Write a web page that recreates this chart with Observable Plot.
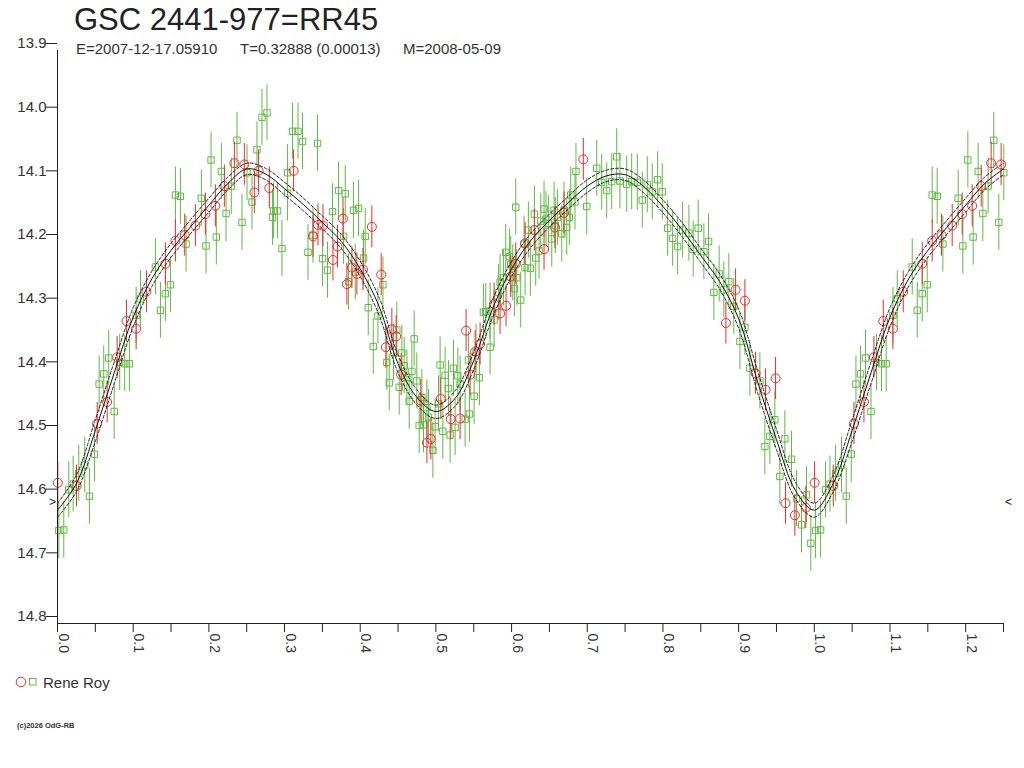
<!DOCTYPE html>
<html>
<head>
<meta charset="utf-8">
<script src="https://cdn.jsdelivr.net/npm/d3@7"></script>
<script src="https://cdn.jsdelivr.net/npm/@observablehq/plot@0.6"></script>
<style>
  html, body { margin: 0; padding: 0; background: #fff; overflow: hidden; }
  #wrap { position: relative; width: 1024px; height: 768px; font-family: "Liberation Sans", Arial, sans-serif; }
  #chart { position: absolute; left: 0; top: 0; }
  .abs { position: absolute; white-space: pre; line-height: 1; }
</style>
</head>
<body>
<div id="wrap">
  <div id="chart"></div>
  <div class="abs" style="left:74px; top:4px; font-size:31px; color:#222;">GSC 2441-977=RR45</div>
  <div class="abs" style="left:76px; top:41px; font-size:15px; color:#333;">E=2007-12-17.05910</div>
  <div class="abs" style="left:240px; top:41px; font-size:15px; color:#333;">T=0.32888 (0.00013)</div>
  <div class="abs" style="left:403px; top:41px; font-size:15px; color:#333;">M=2008-05-09</div>
  <svg class="abs" style="left:14px; top:675px;" width="26" height="14">
    <circle cx="7" cy="7" r="4.8" fill="none" stroke="#ee2b2b" stroke-width="1"/>
    <rect x="15.5" y="3.5" width="6.5" height="6.5" fill="none" stroke="#62b846" stroke-width="1"/>
  </svg>
  <div class="abs" style="left:43px; top:675px; font-size:15px; color:#333;">Rene Roy</div>
  <div class="abs" style="left:17px; top:722px; font-size:7.5px; font-weight:bold; color:#333;">(c)2026 OdG-RB</div>
</div>
<script>
// ---- data (phase, magnitude) ----
const greenPhase = [0.0017,0.0083,0.0149,0.0207,0.0281,0.0360,0.0422,0.0488,0.0550,0.0611,0.0677,0.0749,0.0822,0.0888,0.0950,0.1039,0.1096,0.1294,0.1360,0.1426,0.1492,0.1558,0.1624,0.1699,0.1901,0.1963,0.2029,0.2099,0.2165,0.2227,0.2297,0.2372,0.2438,
0.2504,0.2570,0.2636,0.2702,0.2768,0.2842,0.2855,0.2908,0.2966,0.3040,0.3040,0.3106,0.3178,0.3238,0.3310,0.3376,0.3436,0.3502,0.3568,0.3634,0.3714,0.3780,0.3802,0.3846,0.3912,0.3934,0.3978,0.4044,0.4066,0.4106,0.4172,0.4234,0.4300,0.4352,0.4383,0.4440,0.4484,0.4515,0.4550,0.4581,0.4617,0.4647,0.4683,0.4713,0.4748,0.4779,0.4815,0.4881,0.4902,
0.4836,0.4960,0.4990,0.5034,0.5056,0.5092,0.5122,0.5166,0.5188,0.5232,0.5254,0.5290,0.5320,0.5386,0.5430,0.5443,0.5505,0.5531,0.5575,0.5628,0.5659,0.5716,0.5716,0.5769,0.5826,0.5848,0.5892,0.5923,0.5971,0.5989,0.6016,0.6037,0.6055,0.6069,0.6121,0.6165,0.6178,0.6222,0.6248,0.6301,0.6319,0.6363,0.6386,0.6429,0.6455,0.6486,0.6531,0.6561,0.6578,0.6605,0.6663,0.6693,0.6729,0.6763,0.6782,0.6838,0.6851,0.6993,0.7125,0.7191,0.7257,0.7323,0.7389,0.7432,
0.7521,0.7587,0.7661,0.7727,0.7793,0.7859,0.7930,0.7991,0.8062,0.8128,0.8194,0.8260,0.8343,0.8400,0.8466,0.8541,0.8603,0.8673,0.8743,0.8805,0.8871,0.8937,0.9017,0.9083,0.9149,0.9281,0.9347,0.9413,0.9479,0.9545,0.9611,0.9699,0.9765,0.9831,0.9897,0.9954];
const greenMag = [14.654,14.653,14.590,14.581,14.564,14.551,14.600,14.534,14.424,14.408,14.383,14.467,14.390,14.392,14.392,14.316,14.290,14.240,14.308,14.282,14.268,14.127,14.129,14.204,14.132,14.207,14.072,14.193,14.090,14.156,14.113,14.041,14.170,
14.092,14.138,14.056,14.005,13.998,14.162,14.152,14.152,14.211,14.092,14.124,14.027,14.027,14.043,14.217,14.190,14.046,14.227,14.245,14.153,14.120,14.192,14.125,14.263,14.151,14.248,14.148,14.226,14.192,14.304,14.365,14.317,14.268,14.390,14.422,14.374,14.339,14.429,14.375,14.395,14.414,14.451,14.404,14.353,14.419,14.489,14.445,14.461,14.476,
14.488,14.528,14.491,14.455,14.394,14.498,14.410,14.431,14.504,14.399,14.492,14.411,14.424,14.479,14.386,14.471,14.443,14.374,14.414,14.311,14.310,14.309,14.366,14.323,14.280,14.264,14.257,14.217,14.224,14.236,14.249,14.274,14.146,14.257,14.292,14.204,14.241,14.182,14.242,14.157,14.226,14.215,14.168,14.149,14.165,14.172,14.196,14.151,14.175,14.162,14.188,14.151,14.178,14.162,14.127,14.138,14.090,14.145,14.085,14.107,14.120,14.106,14.067,14.105,
14.110,14.106,14.107,14.135,14.111,14.122,14.103,14.122,14.179,14.195,14.208,14.182,14.187,14.212,14.179,14.216,14.200,14.280,14.251,14.276,14.263,14.302,14.357,14.335,14.399,14.419,14.522,14.506,14.480,14.569,14.510,14.542,14.604,14.645,14.598,14.674];
const greenErr = 0.044;

const redPhase = [0.0004,0.0251,0.0524,0.0656,0.0788,0.0911,0.1039,0.1175,0.1426,0.1558,0.1681,0.1822,0.1954,0.2086,0.2205,0.2337,0.2469,0.2601,0.2657,0.2799,0.3120,0.3376,0.3442,0.3508,0.3640,0.3700,0.3772,0.3824,0.3890,0.3956,0.4036,0.4154,0.4277,0.4339,0.4418,0.4475,0.4541,0.4801,0.4881,0.4933,0.5065,0.5197,0.5320,0.5399,0.5452,0.5518,0.5584,0.5769,0.5848,0.5927,0.5989,0.6055,0.6178,0.6301,0.6429,0.6574,0.6693,0.6948,0.8832,0.8960,0.9083,0.9224,0.9356,0.9488,0.9620,0.9743,0.9888];
const redMag = [14.579,14.584,14.486,14.452,14.382,14.325,14.337,14.279,14.235,14.199,14.190,14.175,14.157,14.144,14.113,14.077,14.079,14.123,14.089,14.116,14.089,14.192,14.174,14.175,14.229,14.208,14.164,14.267,14.241,14.251,14.244,14.177,14.252,14.366,14.338,14.349,14.409,14.450,14.516,14.510,14.447,14.479,14.478,14.340,14.409,14.373,14.361,14.298,14.313,14.301,14.255,14.235,14.203,14.182,14.212,14.178,14.155,14.071,14.328,14.276,14.293,14.407,14.433,14.415,14.611,14.630,14.618];
const redErr = 0.033;

// fitted light curve and its confidence band
const curvePhase = [0,0.025,0.05,0.075,0.1,0.125,0.15,0.175,0.2,0.225,0.25,0.275,0.3,0.325,0.35,0.375,0.4,0.425,0.45,0.475,0.5,0.525,0.55,0.575,0.6,0.625,0.65,0.675,0.7,0.725,0.75,0.775,0.8,0.825,0.85,0.875,0.9,0.925,0.95,0.975,1.0];
const curveMag = [14.622,14.580,14.497,14.406,14.319,14.258,14.214,14.178,14.143,14.109,14.086,14.094,14.117,14.142,14.170,14.200,14.243,14.302,14.392,14.445,14.467,14.447,14.387,14.305,14.243,14.199,14.167,14.139,14.113,14.097,14.095,14.114,14.145,14.181,14.222,14.263,14.321,14.420,14.511,14.591,14.622];
const curveUpper = [14.611,14.567,14.480,14.389,14.304,14.246,14.203,14.167,14.132,14.099,14.077,14.085,14.107,14.132,14.160,14.189,14.231,14.288,14.378,14.433,14.457,14.435,14.373,14.291,14.231,14.188,14.157,14.129,14.103,14.088,14.086,14.104,14.135,14.170,14.211,14.251,14.306,14.403,14.495,14.578,14.611];
const curveLower = [14.633,14.593,14.514,14.423,14.334,14.270,14.225,14.189,14.154,14.119,14.095,14.103,14.127,14.152,14.180,14.211,14.255,14.316,14.406,14.457,14.478,14.459,14.401,14.319,14.255,14.210,14.177,14.149,14.123,14.106,14.104,14.124,14.155,14.192,14.233,14.275,14.336,14.437,14.527,14.604,14.633];

const minLevel = 14.61;
const yTicks = [13.9,14.0,14.1,14.2,14.3,14.4,14.5,14.6,14.7,14.8];
const xTickLabels = [0.0,0.1,0.2,0.3,0.4,0.5,0.6,0.7,0.8,0.9,1.0,1.1,1.2];
const xTicksAll = [0,0.05,0.1,0.15,0.2,0.25,0.3,0.35,0.4,0.45,0.5,0.55,0.6,0.65,0.7,0.75,0.8,0.85,0.9,0.95,1.0,1.05,1.1,1.15,1.2,1.25];
const phaseMax = 1.25;

const GREEN = "#62b846", RED = "#ee2b2b";

// build tables; phases shown twice beyond 1.0 (phase folding display up to 1.25)
function fold(rows) {
  return rows.concat(rows.filter(d => d.p + 1 <= phaseMax + 0.003).map(d => ({...d, p: d.p + 1})));
}
const green = fold(greenPhase.map((p, i) => ({p, m: greenMag[i]})));
const red = fold(redPhase.map((p, i) => ({p, m: redMag[i]})));
const curveBase = curvePhase.map((p, i) => ({p, c: curveMag[i], u: curveUpper[i], l: curveLower[i]}));
const curve = curveBase.concat(curveBase.filter(d => d.p > 0 && d.p + 1 <= phaseMax + 1e-9).map(d => ({...d, p: d.p + 1})));

const chart = Plot.plot({
  width: 1024,
  height: 660,
  marginLeft: 57,
  marginRight: 21,
  marginTop: 50,
  marginBottom: 37,
  x: {domain: [0, phaseMax], label: null},
  y: {domain: [13.9, 14.8], reverse: true, label: null},
  style: {fontFamily: "'Liberation Sans', Arial, sans-serif", color: "#222", background: "transparent", overflow: "visible"},
  marks: [
    // green observations
    Plot.ruleX(green, {x: "p", y1: d => d.m - greenErr, y2: d => d.m + greenErr, stroke: GREEN, strokeWidth: 1}),
    Plot.dot(green, {x: "p", y: "m", symbol: "square", r: 3.6, stroke: GREEN, fill: "none", strokeWidth: 1}),
    // red observations
    Plot.ruleX(red, {x: "p", y1: d => d.m - redErr, y2: d => d.m + redErr, stroke: RED, strokeWidth: 1}),
    Plot.dot(red, {x: "p", y: "m", r: 4.5, stroke: RED, fill: "none", strokeWidth: 1}),
    // fitted curve
    Plot.line(curve, {x: "p", y: "u", curve: "catmull-rom", stroke: "#222", strokeWidth: 1, strokeDasharray: "3,2"}),
    Plot.line(curve, {x: "p", y: "l", curve: "catmull-rom", stroke: "#222", strokeWidth: 1, strokeDasharray: "3,2"}),
    Plot.line(curve, {x: "p", y: "c", curve: "catmull-rom", stroke: "#111", strokeWidth: 1}),
    // axes
    Plot.ruleX([0], {y1: 13.9, y2: 14.8, stroke: "#222"}),
    Plot.ruleY([14.8], {x1: 0, x2: phaseMax, stroke: "#222"}),
    Plot.axisY(yTicks, {anchor: "left", tickSize: 11, tickPadding: 0, tickFormat: d => d.toFixed(1), fontSize: 15, dy: -7, fill: "#333", stroke: "#222", label: null}),
    Plot.axisX(xTicksAll, {anchor: "bottom", tickSize: 9, tickFormat: () => "", stroke: "#222", label: null}),
    Plot.text(xTickLabels, {x: d => d, frameAnchor: "bottom", text: d => d.toFixed(1), rotate: 90, textAnchor: "start", lineAnchor: "bottom", dx: 1, dy: 10, fontSize: 14, fill: "#333"}),
    // min-level markers
    Plot.text([minLevel], {x: 0, y: d => d, text: () => ">", dx: -5, fontSize: 12, fill: "#222"}),
    Plot.text([minLevel], {x: phaseMax, y: d => d, text: () => "<", dx: 5, fontSize: 12, fill: "#222"})
  ]
});
document.getElementById("chart").appendChild(chart);
</script>
</body>
</html>
